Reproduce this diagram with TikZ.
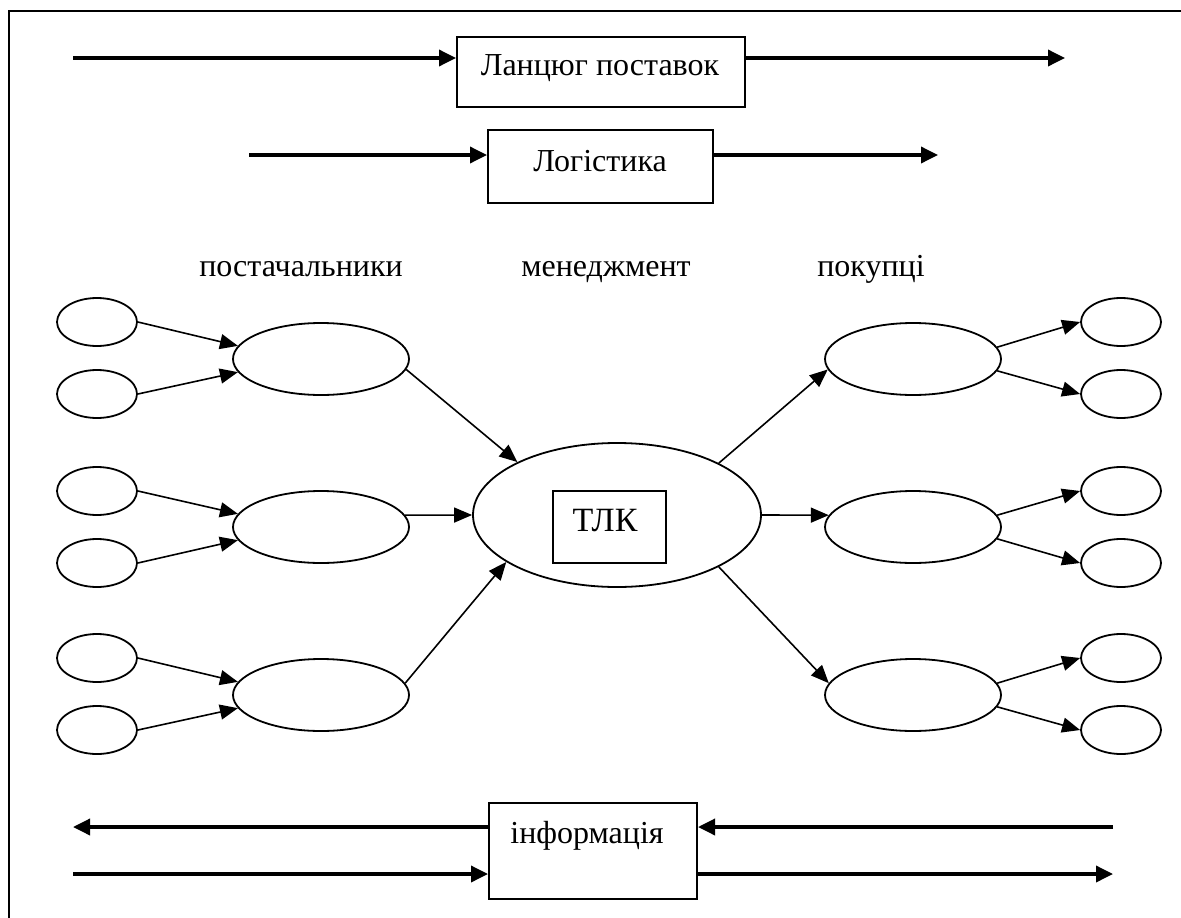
\documentclass[tikz,border=0pt]{standalone}
\usepackage{fontspec}
\setmainfont{Liberation Serif}
\usetikzlibrary{arrows.meta,shapes.geometric}
\begin{document}
\begin{tikzpicture}[x=1pt,y=-1pt,
  harrow/.style={line width=3.5pt,-{Triangle[length=17pt,width=16pt]}},
  sarrow/.style={line width=1.6pt,-{Triangle[length=18pt,width=15pt]}},
  boxnode/.style={draw,line width=2pt,inner sep=0pt},
  bigell/.style={ellipse,draw,line width=1.8pt,minimum width=176pt,minimum height=72pt,inner sep=0pt},
  smallell/.style={ellipse,draw,line width=1.8pt,minimum width=80pt,minimum height=48pt,inner sep=0pt},
  txt/.style={font=\fontsize{32}{38}\selectfont,inner sep=0pt,anchor=base}]
\useasboundingbox (0,0) rectangle (1181,918);
% frame (only left and top edges visible)
\draw[line width=2.5pt] (9,930) -- (9,11) -- (1190,11);

% top boxes
\node[boxnode,minimum width=288pt,minimum height=70pt] (b1) at (601,72) {};
\node[txt] (t1) at (600,75) {Ланцюг поставок};
\node[boxnode,minimum width=225pt,minimum height=73pt] (b2) at (600.5,166.5) {};
\node[txt] (t2) at (600,171) {Логістика};

\coordinate (l1s) at (73,58);
\coordinate (l1e) at (1065,58);
\draw[harrow] (l1s) -- (l1s -| b1.west);
\draw[harrow] (b1.east |- l1s) -- (l1e);
\coordinate (l2s) at (249,155);
\coordinate (l2e) at (938,155);
\draw[harrow] (l2s) -- (l2s -| b2.west);
\draw[harrow] (b2.east |- l2s) -- (l2e);

% column labels
\node[txt] (lp) at (301,276) {постачальники};
\node[txt] (lm) at (606,276) {менеджмент};
\node[txt] (lk) at (871,276) {покупці};

% left side
\node[smallell] (s1) at (97,322) {};
\node[smallell] (s2) at (97,394) {};
\node[smallell] (s3) at (97,491) {};
\node[smallell] (s4) at (97,563) {};
\node[smallell] (s5) at (97,658) {};
\node[smallell] (s6) at (97,730) {};
\node[bigell] (m1) at (321,359) {};
\node[bigell] (m2) at (321,527) {};
\node[bigell] (m3) at (321,695) {};

% centre
\node[ellipse,draw,line width=1.8pt,minimum width=288pt,minimum height=144pt,inner sep=0pt] (tlk) at (617,515) {};
\node[boxnode,minimum width=113pt,minimum height=72pt] (tlkbox) at (609.5,527) {};
\node[txt,font=\fontsize{34}{40}\selectfont] (ttlk) at (605,531) {ТЛК};

% right side
\node[bigell] (r1) at (913,359) {};
\node[bigell] (r2) at (913,527) {};
\node[bigell] (r3) at (913,695) {};
\node[smallell] (c1) at (1121,322) {};
\node[smallell] (c2) at (1121,394) {};
\node[smallell] (c3) at (1121,491) {};
\node[smallell] (c4) at (1121,563) {};
\node[smallell] (c5) at (1121,658) {};
\node[smallell] (c6) at (1121,730) {};

% left arrows
\draw[sarrow] (s1.east) -- (m1.171);
\draw[sarrow] (s2.east) -- (m1.189);
\draw[sarrow] (s3.east) -- (m2.171);
\draw[sarrow] (s4.east) -- (m2.189);
\draw[sarrow] (s5.east) -- (m3.171);
\draw[sarrow] (s6.east) -- (m3.189);

% to/from centre
\draw[sarrow] (m1.-7) -- (tlk.152.7);
\draw[sarrow] (m2.8) -- (tlk.west);
\draw[sarrow] (m3.8) -- (tlk.203.3);
\draw[sarrow] (tlk.27.5) -- (r1.187);
\draw[sarrow] (tlk.east) -- (r2.172);
\draw[sarrow] (tlk.-27.5) -- (r3.172);

% right arrows
\draw[sarrow] (r1.8) -- (c1.west);
\draw[sarrow] (r1.-8) -- (c2.west);
\draw[sarrow] (r2.8) -- (c3.west);
\draw[sarrow] (r2.-8) -- (c4.west);
\draw[sarrow] (r3.8) -- (c5.west);
\draw[sarrow] (r3.-8) -- (c6.west);

% information
\node[boxnode,minimum width=208pt,minimum height=96pt] (b3) at (593,851) {};
\node[txt] (t3) at (587,843) {інформація};
\coordinate (u1) at (73,827);
\coordinate (u2) at (1113,827);
\coordinate (d1) at (73,874);
\coordinate (d2) at (1113,874);
\draw[harrow] (b3.west |- u1) -- (u1);
\draw[harrow] (u2) -- (b3.east |- u2);
\draw[harrow] (d1) -- (b3.west |- d1);
\draw[harrow] (b3.east |- d2) -- (d2);
\end{tikzpicture}
\end{document}
